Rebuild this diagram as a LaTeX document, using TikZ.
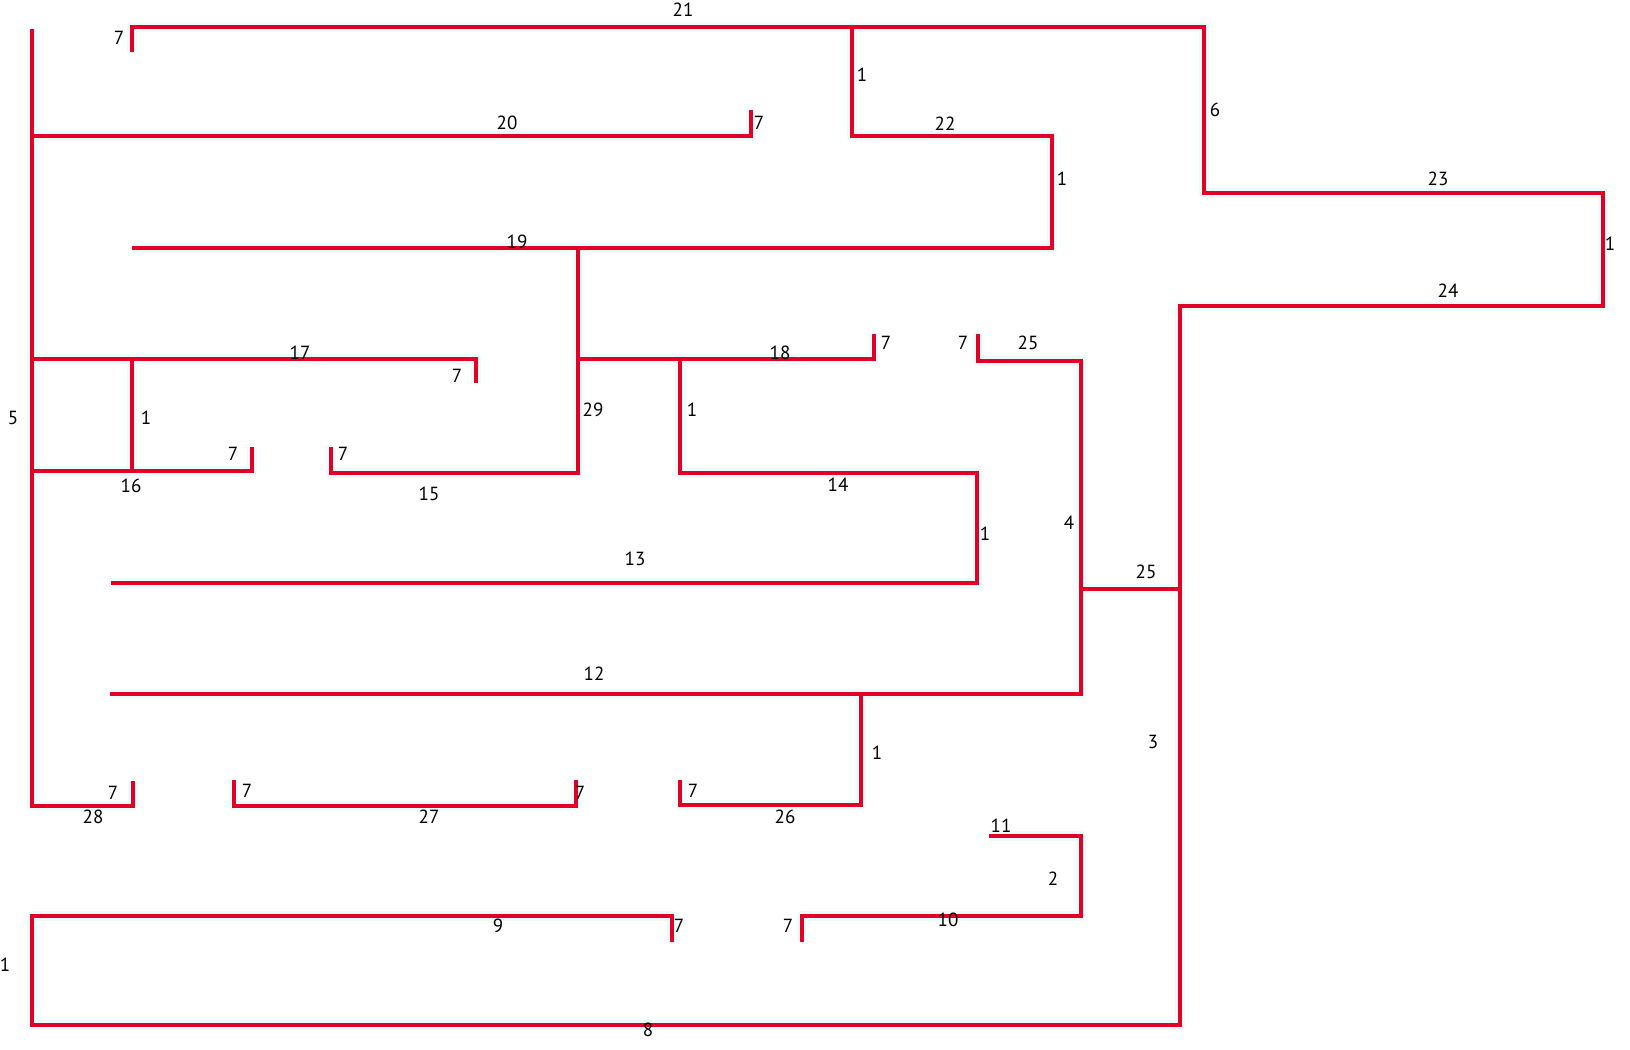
\documentclass[tikz,border=0pt]{standalone}
\usepackage{fontspec}
\setmainfont{PT Sans}
\definecolor{wallred}{RGB}{226,0,38}
\definecolor{glowcyan}{RGB}{236,252,253}
\tikzset{
  wall/.style={draw=wallred, line width=2pt, line join=miter},
  glow/.style={draw=glowcyan, line width=5pt, line join=round},
  lab/.style={font=\fontsize{9.5}{11}\selectfont, inner sep=0pt, text=black}
}
\newcommand\mywallpaths[1]{%
\draw[#1] (a1)--(a2)--(a4)--(a5)--(a6)--(a7)--(a8)--(a10)--(a11)--(a12)--(a13)--(a14);
\draw[#1] (a3)--(b1)--(b2)--(b3)--(b4);
\draw[#1] (L1)--(L5)--(h1)--(h2);
\draw[#1] (L2)--(c1)--(c2);
\draw[#1] (b5)--(d2)--(d3)--(d4);
\draw[#1] (L3)--(e1)--(e2);
\draw[#1] (e3)--(e4);
\draw[#1] (L4)--(e5)--(e6);
\draw[#1] (d1)--(f2)--(f3);
\draw[#1] (f1)--(f4)--(f5)--(f6)--(f7);
\draw[#1] (g1)--(g2)--(g3)--(g5)--(g7);
\draw[#1] (g4)--(a9);
\draw[#1] (g6)--(g8)--(g9)--(g10);
\draw[#1] (i1)--(i2)--(i3)--(i4);
\draw[#1] (j1)--(j2)--(j3)--(j4)--(j5);
}
\begin{document}
\begin{tikzpicture}[x=0.5pt,y=-0.5pt]
\useasboundingbox[fill=white] (0,0) rectangle (1630,1050);
% outer path
\coordinate (a1) at (132,52);
\coordinate (a2) at (132,27);
\coordinate (a3) at (852,27);
\coordinate (a4) at (1204,27);
\coordinate (a5) at (1204,193);
\coordinate (a6) at (1603,193);
\coordinate (a7) at (1603,306);
\coordinate (a8) at (1180,306);
\coordinate (a9) at (1180,589);
\coordinate (a10) at (1180,1025);
\coordinate (a11) at (32,1025);
\coordinate (a12) at (32,916);
\coordinate (a13) at (672,916);
\coordinate (a14) at (672,942);
% 22 / 19
\coordinate (b1) at (852,136);
\coordinate (b2) at (1052,136);
\coordinate (b3) at (1052,248);
\coordinate (b4) at (132,248);
\coordinate (b5) at (578,248);
% left wall
\coordinate (L1) at (32,29);
\coordinate (L2) at (32,136);
\coordinate (L3) at (32,359);
\coordinate (L4) at (32,471);
\coordinate (L5) at (32,806);
% 20
\coordinate (c1) at (751,136);
\coordinate (c2) at (751,110);
% 29 / 15
\coordinate (d1) at (578,359);
\coordinate (d2) at (578,473);
\coordinate (d3) at (331,473);
\coordinate (d4) at (331,447);
% 17 / 16
\coordinate (e1) at (476,359);
\coordinate (e2) at (476,383);
\coordinate (e3) at (132,359);
\coordinate (e4) at (132,471);
\coordinate (e5) at (252,471);
\coordinate (e6) at (252,447);
% 18 / 14 / 13
\coordinate (f1) at (680,359);
\coordinate (f2) at (874,359);
\coordinate (f3) at (874,334);
\coordinate (f4) at (680,473);
\coordinate (f5) at (977,473);
\coordinate (f6) at (977,583);
\coordinate (f7) at (111,583);
% 25 / 4 / 12 / 26
\coordinate (g1) at (978,334);
\coordinate (g2) at (978,361);
\coordinate (g3) at (1081,361);
\coordinate (g4) at (1081,589);
\coordinate (g5) at (1081,694);
\coordinate (g6) at (861,694);
\coordinate (g7) at (110,694);
\coordinate (g8) at (861,805);
\coordinate (g9) at (680,805);
\coordinate (g10) at (680,780);
% 28
\coordinate (h1) at (133,806);
\coordinate (h2) at (133,781);
% 27
\coordinate (i1) at (234,780);
\coordinate (i2) at (234,806);
\coordinate (i3) at (576,806);
\coordinate (i4) at (576,780);
% 11 / 2 / 10
\coordinate (j1) at (989,836);
\coordinate (j2) at (1081,836);
\coordinate (j3) at (1081,916);
\coordinate (j4) at (802,916);
\coordinate (j5) at (802,942);

\mywallpaths{glow}
\mywallpaths{wall}

% labels
\node[lab] (t21) at (683,10) {21};
\node[lab] (t7a) at (119,38) {7};
\node[lab] (t1a) at (862,75) {1};
\node[lab] (t6) at (1215,110) {6};
\node[lab] (t20) at (507,123) {20};
\node[lab] (t7b) at (759,123) {7};
\node[lab] (t22) at (945,124) {22};
\node[lab] (t1b) at (1062,179) {1};
\node[lab] (t23) at (1438,179) {23};
\node[lab] (t1c) at (1610,244) {1};
\node[lab] (t19) at (517,242) {19};
\node[lab] (t24) at (1448,291) {24};
\node[lab] (t17) at (300,353) {17};
\node[lab] (t7c) at (457,376) {7};
\node[lab] (t18) at (780,353) {18};
\node[lab] (t7d) at (886,343) {7};
\node[lab] (t7e) at (963,343) {7};
\node[lab] (t25a) at (1028,343) {25};
\node[lab] (t5) at (13,418) {5};
\node[lab] (t1d) at (146,418) {1};
\node[lab] (t29) at (593,410) {29};
\node[lab] (t1e) at (692,410) {1};
\node[lab] (t7f) at (233,454) {7};
\node[lab] (t7g) at (343,454) {7};
\node[lab] (t16) at (131,486) {16};
\node[lab] (t15) at (429,494) {15};
\node[lab] (t14) at (838,485) {14};
\node[lab] (t1f) at (985,534) {1};
\node[lab] (t4) at (1069,523) {4};
\node[lab] (t13) at (635,559) {13};
\node[lab] (t25b) at (1146,572) {25};
\node[lab] (t12) at (594,674) {12};
\node[lab] (t3) at (1153,742) {3};
\node[lab] (t1g) at (877,753) {1};
\node[lab] (t7h) at (113,793) {7};
\node[lab] (t7i) at (247,791) {7};
\node[lab] (t7j) at (580,793) {7};
\node[lab] (t7k) at (693,791) {7};
\node[lab] (t28) at (93,817) {28};
\node[lab] (t27) at (429,817) {27};
\node[lab] (t26) at (785,817) {26};
\node[lab] (t11) at (1001,826) {11};
\node[lab] (t2) at (1053,879) {2};
\node[lab] (t9) at (498,926) {9};
\node[lab] (t7l) at (679,926) {7};
\node[lab] (t7m) at (788,926) {7};
\node[lab] (t10) at (948,920) {10};
\node[lab] (t1h) at (5,965) {1};
\node[lab] (t8) at (648,1030) {8};
\end{tikzpicture}
\end{document}
